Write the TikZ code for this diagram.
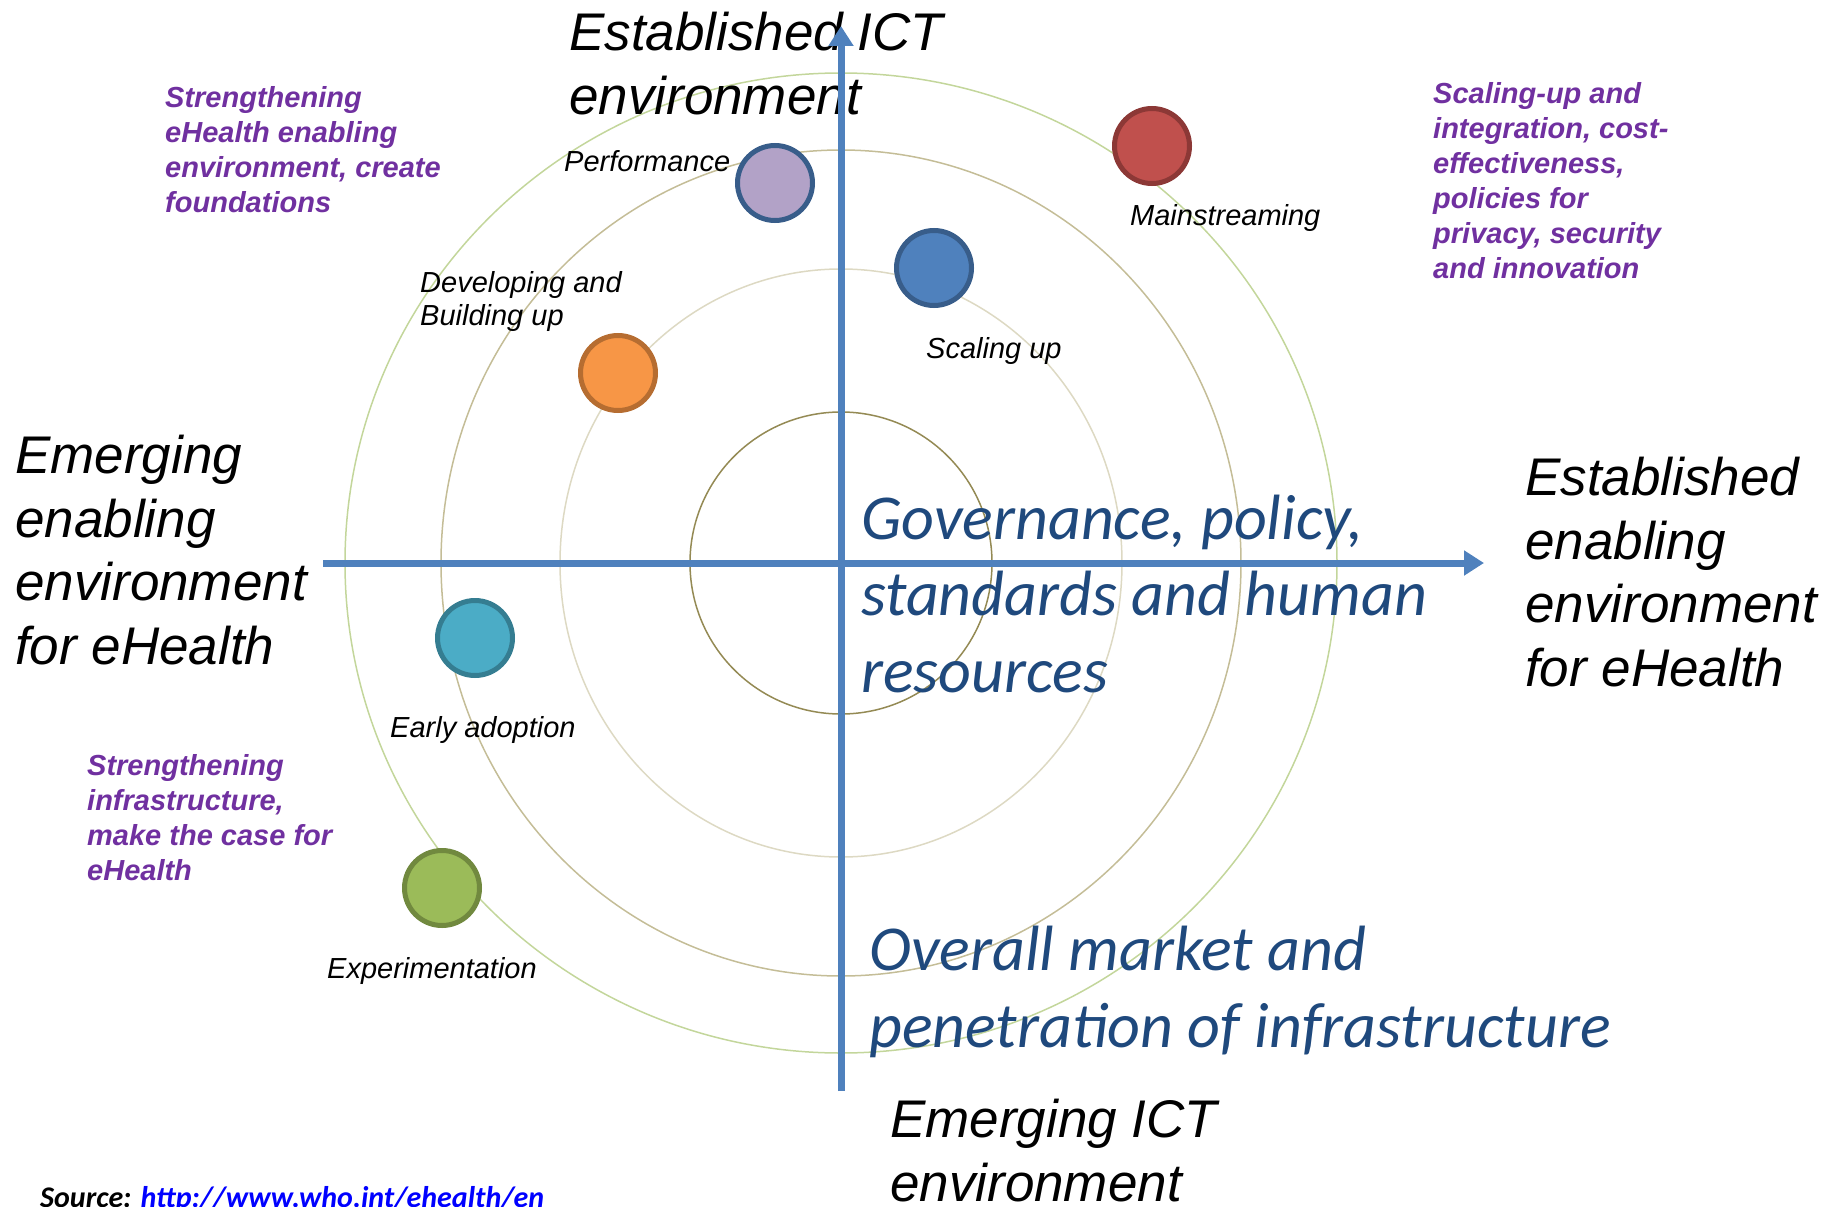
\documentclass[tikz,border=0pt]{standalone}
\usepackage{fontspec}
\setmainfont{Liberation Sans}
\newfontfamily\calibri{Carlito}
\usetikzlibrary{arrows.meta}
\definecolor{axisblue}{HTML}{4F81BD}
\definecolor{textblue}{HTML}{1F497D}
\definecolor{notepurple}{HTML}{7030A0}
\definecolor{ringA}{HTML}{948A54}
\definecolor{ringB}{HTML}{DDD9C3}
\definecolor{ringC}{HTML}{C4BD97}
\definecolor{ringD}{HTML}{C3D69B}
\definecolor{lavender}{HTML}{B2A2C7}
\definecolor{darkblue}{HTML}{385D8A}
\definecolor{brick}{HTML}{C0504D}
\definecolor{darkbrick}{HTML}{8C3836}
\definecolor{orangefill}{HTML}{F79646}
\definecolor{orangeline}{HTML}{B66D31}
\definecolor{aqua}{HTML}{4BACC6}
\definecolor{darkaqua}{HTML}{357D91}
\definecolor{olivegreen}{HTML}{9BBB59}
\definecolor{darkolive}{HTML}{71893F}
\begin{document}
\begin{tikzpicture}[x=1pt,y=-1pt,
    every node/.style={inner sep=0, anchor=base west, align=left},
    bigtext/.style={font=\fontsize{53}{63.5}\selectfont\itshape},
    bluetext/.style={font=\fontsize{64}{76.5}\selectfont\calibri\itshape, textblue},
    note/.style={font=\fontsize{29}{35}\selectfont\bfseries\itshape, notepurple},
    stage/.style={font=\fontsize{29}{33}\selectfont\itshape},
    dot/.style={circle, anchor=center, minimum size=75, line width=5},
    axis/.style={line width=7, axisblue, -{Triangle[length=20pt,width=24pt]}}]
    \useasboundingbox (0,0) rectangle (1829,1207);
    \coordinate (O) at (841,563);
    % rings
    \draw [ringA, line width=1.5] (O) circle [radius=151];
    \draw [ringB, line width=1.5] (O) ellipse [x radius=281, y radius=294];
    \draw [ringC, line width=1.5] (O) ellipse [x radius=400, y radius=413];
    \draw [ringD, line width=1.5] (O) ellipse [x radius=496, y radius=490];
    % axis titles (placed at the baseline of the last line)
    \node [bigtext] (ictup) at (569,114) {Established ICT\\environment};
    \node [bigtext] (envleft) at (15,664) {Emerging\\enabling\\environment\\for eHealth};
    \node [bigtext] (envright) at (1525,686) {Established\\enabling\\environment\\for eHealth};
    \node [bigtext] (ictdown) at (890,1201) {Emerging ICT\\environment};
    \node [bluetext] (gov) at (861,692) {Governance, policy,\\standards and human\\resources};
    \node [bluetext] (market) at (869,1047) {Overall market and\\penetration of infrastructure};
    \node [note] (notetl) at (165,212) {Strengthening\\eHealth enabling\\environment, create\\foundations};
    \node [note] (notetr) at (1433,278) {Scaling-up and\\integration, cost-\\effectiveness,\\policies for\\privacy, security\\and innovation};
    \node [note] (notebl) at (87,880) {Strengthening\\infrastructure,\\make the case for\\eHealth};
    \node [font=\fontsize{30}{36}\selectfont\calibri\bfseries\itshape] (source) at (40,1207)
        {Source: \textcolor{blue}{http://www.who.int/ehealth/en}};
    % axes
    \coordinate (xstart) at (323,563);
    \coordinate (xend) at (1484,563);
    \coordinate (ystart) at (841,1091);
    \coordinate (yend) at (841,26);
    \draw [axis] (xstart) -- (xend);
    \draw [axis] (ystart) -- (yend);
    % stages
    \node [dot, fill=lavender, draw=darkblue] (perf) at (775,183) {};
    \node [dot, fill=brick, draw=darkbrick] (mainst) at (1152,146) {};
    \node [dot, fill=axisblue, draw=darkblue] (scal) at (934,268) {};
    \node [dot, fill=orangefill, draw=orangeline] (devel) at (618,373) {};
    \node [dot, fill=aqua, draw=darkaqua] (early) at (475,638) {};
    \node [dot, fill=olivegreen, draw=darkolive] (exper) at (442,888) {};
    \node [stage] (perflabel) at (564,171) {Performance};
    \node [stage] (mainstlabel) at (1130,225) {Mainstreaming};
    \node [stage] (scallabel) at (926,358) {Scaling up};
    \node [stage] (devellabel) at (420,325) {Developing and\\Building up};
    \node [stage] (earlylabel) at (390,737) {Early adoption};
    \node [stage] (experlabel) at (327,978) {Experimentation};
\end{tikzpicture}
\end{document}
